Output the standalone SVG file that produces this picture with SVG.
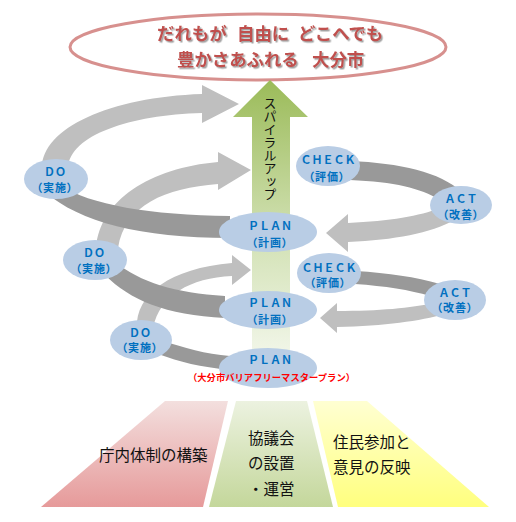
<svg xmlns="http://www.w3.org/2000/svg" width="516" height="522" viewBox="0 0 516 522">
<defs>
<linearGradient id="gUp" x1="0" y1="80" x2="0" y2="372" gradientUnits="userSpaceOnUse">
<stop offset="0" stop-color="#9bbb59"/>
<stop offset="0.55" stop-color="#d3e2b6"/>
<stop offset="1" stop-color="#f6f9f0"/>
</linearGradient>
<linearGradient id="gPink" x1="0" y1="0" x2="0" y2="1">
<stop offset="0" stop-color="#f3dfde"/>
<stop offset="1" stop-color="#e69a9a"/>
</linearGradient>
<linearGradient id="gGreen" x1="0" y1="0" x2="0" y2="1">
<stop offset="0" stop-color="#ecf2e0"/>
<stop offset="1" stop-color="#c4d79b"/>
</linearGradient>
<linearGradient id="gYellow" x1="0" y1="0" x2="0" y2="1">
<stop offset="0" stop-color="#ffffd2"/>
<stop offset="1" stop-color="#ffff7e"/>
</linearGradient>
<filter id="sh" x="-10%" y="-30%" width="120%" height="160%">
<feDropShadow dx="1.5" dy="1.5" stdDeviation="0.7" flood-color="#8c8c8c" flood-opacity="0.8"/>
</filter>
</defs>
<style>
.light{fill:#bfbfbf}
.dark{fill:#999999}
.node{fill:#b9cde5}
.lab{font-family:"Noto Sans CJK JP","Noto Sans",sans-serif;font-weight:bold;font-size:11px;fill:#0070c0;text-anchor:middle}
.par{font-feature-settings:"palt";letter-spacing:1px}
.title{font-family:"Noto Sans CJK JP",sans-serif;font-weight:bold;font-size:17.4px;fill:#c0504d}
.base{font-family:"Noto Sans CJK JP",sans-serif;font-size:15.5px;fill:#111111}
</style>
<rect width="516" height="522" fill="#ffffff"/>

<g id="goal">
<ellipse cx="258" cy="47" rx="188" ry="33" fill="#ffffff" stroke="#d7908e" stroke-width="3"/>
<text class="title" y="40" filter="url(#sh)"><tspan x="157">だれもが</tspan><tspan x="237">自由に</tspan><tspan x="298">どこへでも</tspan></text>
<text class="title" y="66" filter="url(#sh)"><tspan x="177">豊かさあふれる</tspan><tspan x="312">大分市</tspan></text>
</g>

<g id="connectors">
<path class="light" d="M 42,168 C 42,128 110,97 202,94 L 202,85 L 239,104 L 202,123 L 202,113 C 130,115 70,135 68,168 Z"/>
<path class="light" d="M 96,248 C 100,200 150,168 218,162 L 218,152 L 251,170 L 218,190 L 218,184 C 165,188 125,205 118,248 Z"/>
<path class="light" d="M 137,328 C 135,295 170,268 232,263 L 232,255 L 251,270 L 232,285 L 232,276 C 190,278 160,295 153,328 Z"/>
<path class="dark" d="M 60,185 C 90,205 150,215 230,216 L 230,238 C 140,238 80,222 45,192 Z"/>
<path class="dark" d="M 115,262 C 140,282 175,293 225,296 L 225,318 C 165,315 130,300 105,275 Z"/>
<path class="dark" d="M 160,340 C 185,348 205,354 230,356 L 230,370 C 200,367 180,362 158,354 Z"/>
<path class="dark" d="M 350,161 C 400,163 440,172 462,192 L 440,200 C 420,188 395,182 350,180 Z"/>
<path class="light" d="M 440,208 C 420,216 390,221 348,223 L 348,214 L 326,233 L 348,252 L 348,242 C 395,240 430,233 455,220 Z"/>
<path class="dark" d="M 355,271 C 390,273 415,277 440,284 L 430,296 C 410,290 385,286 355,284 Z"/>
<path class="light" d="M 435,303 C 410,308 380,311 337,311 L 337,303 L 320,318 L 337,333 L 337,327 C 385,326 420,321 445,314 Z"/>
</g>

<g id="spiral-up">
<path d="M 270,80 L 308,117 L 290,117 L 290,372 L 252,372 L 252,117 L 233,117 Z" fill="url(#gUp)"/>
<text x="270" y="97" style="writing-mode:vertical-rl;font-family:'Noto Sans CJK JP',sans-serif;font-size:13px;fill:#111111">スパイラルアップ</text>
</g>

<g id="do1"><ellipse class="node" cx="56" cy="179" rx="32" ry="20"/>
<text class="lab" x="55" y="176">ＤＯ</text><text class="lab par" x="55" y="192">（実施）</text></g>
<g id="do2"><ellipse class="node" cx="95" cy="260" rx="32" ry="20"/>
<text class="lab" x="94" y="257">ＤＯ</text><text class="lab par" x="94" y="273">（実施）</text></g>
<g id="do3"><ellipse class="node" cx="141" cy="340" rx="31" ry="20"/>
<text class="lab" x="140" y="337">ＤＯ</text><text class="lab par" x="140" y="352">（実施）</text></g>

<g id="plan1"><ellipse class="node" cx="268" cy="232" rx="49" ry="20"/>
<text class="lab" x="270" y="230">ＰＬＡＮ</text><text class="lab par" x="270" y="247">（計画）</text></g>
<g id="plan2"><ellipse class="node" cx="268" cy="310" rx="49" ry="19"/>
<text class="lab" x="270" y="307">ＰＬＡＮ</text><text class="lab par" x="270" y="324">（計画）</text></g>
<g id="plan3"><ellipse class="node" cx="268" cy="368" rx="49" ry="20"/>
<text class="lab" x="270" y="364">ＰＬＡＮ</text>
<text x="188" y="381" style="font-family:'Noto Sans CJK JP',sans-serif;font-weight:bold;font-size:9.3px;fill:#ff0000" textLength="167">（大分市バリアフリーマスタープラン）</text></g>

<g id="check1"><ellipse class="node" cx="328" cy="166" rx="32" ry="20"/>
<text class="lab" x="328" y="164">ＣＨＥＣＫ</text><text class="lab par" x="327" y="181">（評価）</text></g>
<g id="check2"><ellipse class="node" cx="329" cy="273" rx="32" ry="20"/>
<text class="lab" x="329" y="272">ＣＨＥＣＫ</text><text class="lab par" x="328" y="287">（評価）</text></g>

<g id="act1"><ellipse class="node" cx="461" cy="205" rx="31" ry="19"/>
<text class="lab" x="461" y="203">ＡＣＴ</text><text class="lab par" x="461" y="219">（改善）</text></g>
<g id="act2"><ellipse class="node" cx="455" cy="300" rx="31" ry="20"/>
<text class="lab" x="455" y="297">ＡＣＴ</text><text class="lab par" x="455" y="312">（改善）</text></g>

<g id="base-office">
<polygon points="165,401 228,401 203,507 41,507" fill="url(#gPink)"/>
<text class="base" x="99" y="461">庁内体制の構築</text>
</g>
<g id="base-council">
<polygon points="236,401 307,401 333,507 209,507" fill="url(#gGreen)"/>
<text class="base" x="248" y="444">協議会</text>
<text class="base" x="248" y="469">の設置</text>
<text class="base" x="248" y="495">・運営</text>
</g>
<g id="base-residents">
<polygon points="313,401 367,401 489,507 338,507" fill="url(#gYellow)"/>
<text class="base" x="333" y="448">住民参加と</text>
<text class="base" x="333" y="473">意見の反映</text>
</g>
</svg>
